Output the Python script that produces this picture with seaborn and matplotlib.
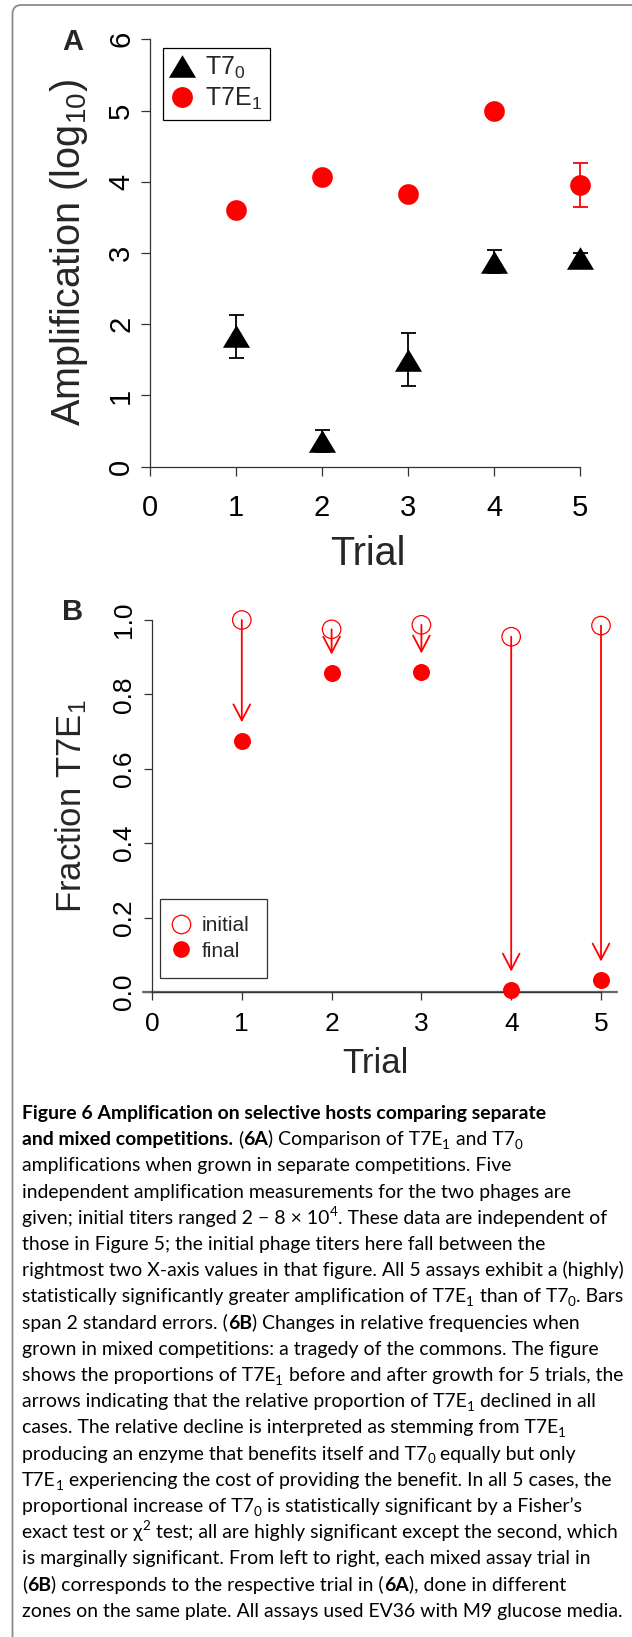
import numpy as np
import pandas as pd
import matplotlib
matplotlib.use("Agg")
import matplotlib.pyplot as plt
import seaborn as sns
from matplotlib.patches import FancyBboxPatch
from matplotlib.transforms import IdentityTransform
from matplotlib.lines import Line2D
from matplotlib.markers import MarkerStyle

# ---------------- data ----------------
trials = [1, 2, 3, 4, 5]
t70_mean = [1.83, 0.36, 1.50, 2.88, 2.93]
t70_se = [0.30, 0.16, 0.37, 0.165, 0.07]
t7e1_mean = [3.61, 4.07, 3.83, 5.00, 3.95]
t7e1_se = [0.06, 0.06, 0.06, 0.06, 0.31]

frac_initial = [1.00, 0.975, 0.987, 0.955, 0.985]
frac_final = [0.675, 0.857, 0.860, 0.005, 0.032]

xticks = [0, 1, 2, 3, 4, 5]
yticks_a = [0, 1, 2, 3, 4, 5, 6]
yticks_b = [0.0, 0.2, 0.4, 0.6, 0.8, 1.0]
yticklabels_b = ["0.0", "0.2", "0.4", "0.6", "0.8", "1.0"]

# ---------------- style ----------------
sns.set_style("ticks")
AX_FAM = ["Liberation Sans", "DejaVu Sans"]
plt.rcParams["font.family"] = AX_FAM
plt.rcParams["mathtext.fontset"] = "custom"
plt.rcParams["mathtext.rm"] = "Liberation Sans"
plt.rcParams["mathtext.it"] = "Liberation Sans:italic"
plt.rcParams["mathtext.bf"] = "Liberation Sans:bold"

W, H = 632, 1637
fig = plt.figure(figsize=(W / 100, H / 100), dpi=100)
fig.patch.set_facecolor("white")


def fx(px):
    return px / W


def fy(py):
    return 1 - py / H


AX_COL = "#333333"
TRI = [(-1.2, -1.0), (1.2, -1.0), (0.0, 1.0)]


def style_axes(ax, xb, yb, tick_fs, tick_len, xpad, ypad):
    sns.despine(ax=ax)
    ax.spines["left"].set_bounds(*yb)
    ax.spines["bottom"].set_bounds(*xb)
    for s in ("left", "bottom"):
        ax.spines[s].set_color(AX_COL)
        ax.spines[s].set_linewidth(0.9)
    ax.tick_params(direction="out", length=tick_len, width=0.9, color=AX_COL,
                   labelsize=tick_fs, labelcolor="black")
    ax.tick_params(axis="y", labelrotation=90, pad=ypad)
    ax.tick_params(axis="x", pad=xpad)
    for lab in ax.get_yticklabels() + ax.get_xticklabels():
        lab.set_family(AX_FAM)
    for lab in ax.get_yticklabels():
        lab.set_va("center")
    ax.set_facecolor("none")
    ax.grid(False)


# ---------------- panel A ----------------
axA = fig.add_axes([fx(150), fy(466.7), fx(580) - fx(150), fy(39.3) - fy(466.7)])
axA.set_xlim(0, 5)
axA.set_ylim(0, 6)
axA.errorbar(trials, t70_mean, yerr=t70_se, fmt="none", ecolor="black",
             elinewidth=1.3, capsize=5.4, capthick=1.3, clip_on=False, zorder=2)
axA.errorbar(trials, t7e1_mean, yerr=t7e1_se, fmt="none", ecolor="red",
             elinewidth=1.3, capsize=5.4, capthick=1.3, clip_on=False, zorder=2)
sns.scatterplot(x=trials, y=t70_mean, marker=TRI, s=380, color="black",
                linewidth=0, ax=axA, clip_on=False, zorder=3)
sns.scatterplot(x=trials, y=t7e1_mean, marker="o", s=222, color="red",
                linewidth=0, ax=axA, clip_on=False, zorder=3)
axA.set_xticks(xticks)
axA.set_yticks(yticks_a)
axA.set_xlabel("")
axA.set_ylabel("")
style_axes(axA, (0, 5), (0, 6), tick_fs=21, tick_len=6.7, xpad=13, ypad=4)

hA = [Line2D([], [], marker=TRI, color="black", linestyle="none", markersize=19.5, markeredgewidth=0),
      Line2D([], [], marker="o", color="red", linestyle="none", markersize=15, markeredgewidth=0)]
legA = axA.legend(hA, ["T7$_0$", "T7E$_1$"], loc="upper left",
                  bbox_to_anchor=(fx(162.5), fy(47.7)), bbox_transform=fig.transFigure,
                  fontsize=18, frameon=True, fancybox=False, framealpha=1,
                  edgecolor="black", borderpad=0.3, handlelength=0.96,
                  handletextpad=0.45, labelspacing=0.18, borderaxespad=0)
legA.get_frame().set_linewidth(0.9)

fig.text(fx(72.5), fy(50), "A", fontsize=21, weight="bold", family=AX_FAM,
         ha="center", va="baseline")
fig.text(fx(69.5), fy(253), "Amplification (log$_{10}$)", fontsize=28.5, rotation=90,
         ha="center", va="center")
fig.text(fx(368), fy(565), "Trial", fontsize=28.5, ha="center", va="baseline")

# ---------------- panel B ----------------
axB = fig.add_axes([fx(152), fy(992), fx(601) - fx(152), fy(620) - fy(992)])
axB.set_xlim(0, 5)
axB.set_ylim(0, 1)
axB.axhline(0, xmin=-0.02, xmax=1.036, color="#666666", lw=1.6, clip_on=False, zorder=1)
for t, a, b in zip(trials, frac_initial, frac_final):
    axB.annotate("", xy=(t, b + 0.05), xytext=(t, a),
                 arrowprops=dict(arrowstyle="->,head_length=1.15,head_width=0.6",
                                 color="red", lw=1.3, shrinkA=0, shrinkB=0,
                                 mutation_scale=10), zorder=2)
sns.scatterplot(x=trials, y=frac_initial, marker=MarkerStyle("o", fillstyle="none"),
                s=177, color="red", linewidth=0.9, ax=axB, clip_on=False, zorder=3)
sns.scatterplot(x=trials, y=frac_final, marker="o", s=150, color="red",
                linewidth=0, ax=axB, clip_on=False, zorder=3)
axB.set_xticks(xticks)
axB.set_yticks(yticks_b)
axB.set_yticklabels(yticklabels_b)
axB.set_xlabel("")
axB.set_ylabel("")
style_axes(axB, (0, 5), (0, 1), tick_fs=19, tick_len=6, xpad=8.4, ypad=5.5)

hB = [Line2D([], [], marker="o", fillstyle="none", color="red", linestyle="none",
             markersize=13.3, markeredgewidth=0.9),
      Line2D([], [], marker="o", color="red", linestyle="none", markersize=12,
             markeredgewidth=0)]
legB = axB.legend(hB, ["initial", "final"], loc="upper left",
                  bbox_to_anchor=(fx(160), fy(899)), bbox_transform=fig.transFigure,
                  fontsize=15, frameon=True, fancybox=False, framealpha=1,
                  edgecolor="#333333", borderpad=0.82, handlelength=0.38,
                  handletextpad=0.81, labelspacing=0.31, borderaxespad=0)
legB.get_frame().set_linewidth(0.9)

fig.text(fx(72.6), fy(620), "B", fontsize=21, weight="bold", family=AX_FAM,
         ha="center", va="baseline")
fig.text(fx(71), fy(806), "Fraction T7E$_1$", fontsize=25, rotation=90,
         ha="center", va="center")
fig.text(fx(375), fy(1073), "Trial", fontsize=25, ha="center", va="baseline")

# ---------------- border ----------------
border = FancyBboxPatch((12.5, -60), 720, (H - 5) + 60, boxstyle="round,pad=0,rounding_size=9",
                        transform=IdentityTransform(), facecolor="none",
                        edgecolor="#8a8a8a", lw=1.3)
fig.patches.append(border)
border.set_figure(fig)

# ---------------- caption ----------------
caption = [
    [("Figure 6 Amplification on selective hosts comparing separate", "b")],
    [("and mixed competitions.", "b"), (" (", "n"), ("6A", "b"), (") Comparison of T7E", "n"),
     ("1", "sub"), (" and T7", "n"), ("0", "sub")],
    [("amplifications when grown in separate competitions. Five", "n")],
    [("independent amplification measurements for the two phages are", "n")],
    [("given; initial titers ranged 2 \u2212 8 \u00d7 10", "n"), ("4", "sup"),
     (". These data are independent of", "n")],
    [("those in Figure 5; the initial phage titers here fall between the", "n")],
    [("rightmost two X-axis values in that figure. All 5 assays exhibit a (highly)", "n")],
    [("statistically significantly greater amplification of T7E", "n"), ("1", "sub"),
     (" than of T7", "n"), ("0", "sub"), (". Bars", "n")],
    [("span 2 standard errors. (", "n"), ("6B", "b"), (") Changes in relative frequencies when", "n")],
    [("grown in mixed competitions: a tragedy of the commons. The figure", "n")],
    [("shows the proportions of T7E", "n"), ("1", "sub"), (" before and after growth for 5 trials, the", "n")],
    [("arrows indicating that the relative proportion of T7E", "n"), ("1", "sub"), (" declined in all", "n")],
    [("cases. The relative decline is interpreted as stemming from T7E", "n"), ("1", "sub")],
    [("producing an enzyme that benefits itself and T7", "n"), ("0", "sub"), (" equally but only", "n")],
    [("T7E", "n"), ("1", "sub"), (" experiencing the cost of providing the benefit. In all 5 cases, the", "n")],
    [("proportional increase of T7", "n"), ("0", "sub"), (" is statistically significant by a Fisher\u2019s", "n")],
    [("exact test or \u03c7", "n"), ("2", "sup"), (" test; all are highly significant except the second, which", "n")],
    [("is marginally significant. From left to right, each mixed assay trial in", "n")],
    [("(", "n"), ("6B", "b"), (") corresponds to the respective trial in (", "n"), ("6A", "b"),
     ("), done in different", "n")],
    [("zones on the same plate. All assays used EV36 with M9 glucose media.", "n")],
]

CAP_FAM = ["Lato", "DejaVu Sans"]
renderer = fig.canvas.get_renderer()


def text_w(s, size, weight):
    t = fig.text(0, 0, s, fontsize=size, weight=weight, family=CAP_FAM)
    w = t.get_window_extent(renderer).width
    t.remove()
    return w


def space_w(size, weight):
    return text_w("n n", size, weight) - text_w("nn", size, weight)


cap_size = 14.0
for _ in range(4):
    cap_size *= 600 / text_w(caption[-1][0][0], cap_size, "normal")
cap_px = cap_size * 100 / 72

x0 = 22
y_first = 1119
line_gap = 26.2
for i, line in enumerate(caption):
    x = x0
    base_y = y_first + i * line_gap
    for s, kind in line:
        size = cap_size * 0.7 if kind in ("sub", "sup") else cap_size
        weight = "bold" if kind == "b" else "normal"
        lead = len(s) - len(s.lstrip(" "))
        trail = len(s) - len(s.rstrip(" "))
        core = s.strip(" ")
        x += lead * space_w(size, weight)
        dy = 0.0
        if kind == "sub":
            dy = 0.2 * cap_px
        elif kind == "sup":
            dy = -0.4 * cap_px
        fig.text(fx(x), fy(base_y + dy), core, fontsize=size, weight=weight,
                 family=CAP_FAM, ha="left", va="baseline", color="black")
        x += text_w(core, size, weight) + (0.6 if kind in ("sub", "sup") else 0)
        x += trail * space_w(size, weight)

fig.savefig("out.png", dpi=100, facecolor="white")
